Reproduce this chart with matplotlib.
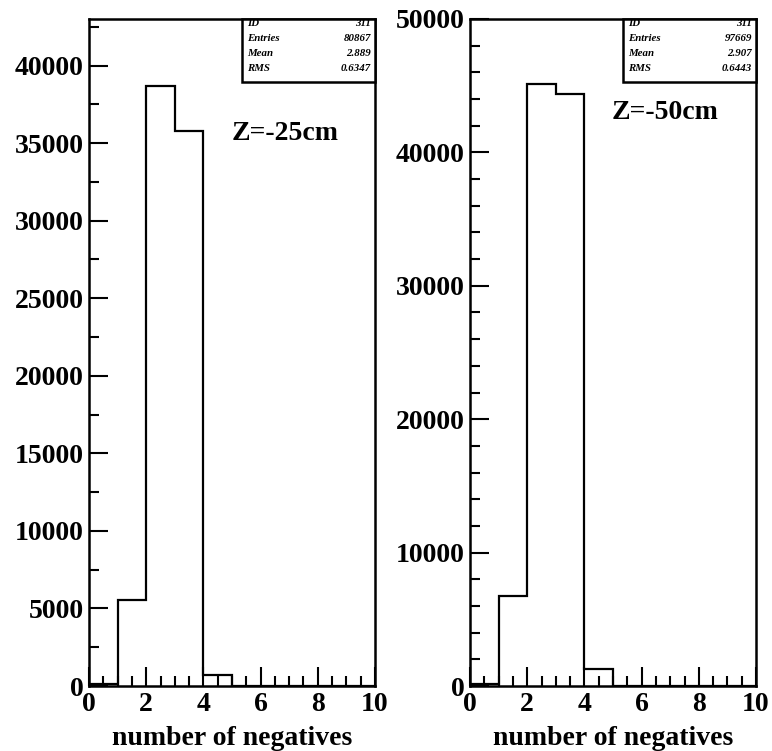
import numpy as np
import matplotlib
matplotlib.use('Agg')
import matplotlib.pyplot as plt
from matplotlib.patches import Rectangle

plt.rcParams['font.family'] = ['Liberation Serif', 'DejaVu Serif']
plt.rcParams['font.weight'] = 'bold'

# histogram contents, bins of width 1 from 0 to 10
edges = np.arange(0, 11)
counts_25 = [120, 5550, 38700, 35770, 730, 0, 0, 0, 0, 0]
counts_50 = [150, 6720, 45150, 44390, 1259, 0, 0, 0, 0, 0]

stats_25 = [('ID', '311'), ('Entries', '80867'), ('Mean', '2.889'), ('RMS', '0.6347')]
stats_50 = [('ID', '311'), ('Entries', '97669'), ('Mean', '2.907'), ('RMS', '0.6443')]

W, H = 772, 751
fig = plt.figure(figsize=(W / 100, H / 100), dpi=100)


def px(x0, y0, w, h):
    # pixel box (top-left origin) -> figure fraction
    return [x0 / W, (H - y0 - h) / H, w / W, h / H]


def panel(left, counts, ymax, ymajor, yminor, label, label_xy, stats):
    ax = fig.add_axes(px(left, 19, 286, 667))
    ax.stairs(counts, edges, color='black', lw=1.6, baseline=0)
    ax.set_xlim(0, 10)
    ax.set_ylim(0, ymax)
    ax.set_xticks(np.arange(0, 11, 2))
    ax.set_xticks(np.arange(0, 10.01, 0.5), minor=True)
    ax.set_yticks(np.arange(0, ymax + 1, ymajor))
    ax.set_yticks(np.arange(0, ymax + 1, yminor), minor=True)
    ax.tick_params(which='both', direction='in', top=False, right=False,
                   labelsize=20, width=1.5)
    ax.tick_params(which='major', length=14, pad=4)
    ax.tick_params(which='minor', length=7)
    for s in ax.spines.values():
        s.set_linewidth(1.8)
    for t in ax.get_xticklabels() + ax.get_yticklabels():
        t.set_fontweight('bold')
    ax.set_xlabel('number of negatives', fontsize=20, fontweight='bold', labelpad=7)
    ax.text(label_xy[0], label_xy[1], label, fontsize=20, fontweight='bold',
            va='center', ha='left')

    # stat box in the upper right corner
    bx, by, bw, bh = left + 153, 19, 133, 63
    fig.patches.append(Rectangle((bx / W, (H - by - bh) / H), bw / W, bh / H,
                                 transform=fig.transFigure, fill=True,
                                 facecolor='white', edgecolor='black', lw=1.8,
                                 zorder=5))
    for i, (k, v) in enumerate(stats):
        yy = (H - (24 + i * 14.7)) / H
        fig.text((bx + 5) / W, yy, k, fontsize=7.8, fontweight='bold',
                 style='italic', va='center', ha='left', zorder=6)
        fig.text((bx + bw - 4) / W, yy, v, fontsize=7.8, fontweight='bold',
                 style='italic', va='center', ha='right', zorder=6)
    return ax


panel(89, counts_25, 43000, 5000, 2500, 'Z=-25cm', (5.0, 35600), stats_25)
panel(470, counts_50, 50000, 10000, 2000, 'Z=-50cm', (4.95, 43000), stats_50)

fig.savefig('out.png', dpi=100)
